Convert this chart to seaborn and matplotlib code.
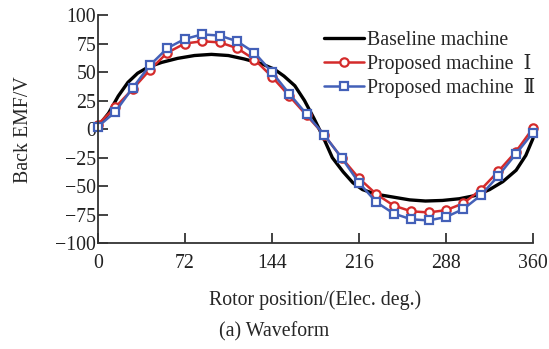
import numpy as np
import pandas as pd
import seaborn as sns
import matplotlib.pyplot as plt

# rotor position of the marker points (elec. deg)
pos_markers = [0, 14.4, 28.8, 43.2, 57.6, 72, 86.4, 100.8, 115.2, 129.6, 144,
               158.4, 172.8, 187.2, 201.6, 216, 230.4, 244.8, 259.2, 273.6, 288,
               302.4, 316.8, 331.2, 345.6, 360]
emf_prop1 = [4, 19, 35, 52, 67, 75, 77, 76, 71, 61, 46, 29, 12, -5, -25, -43,
             -57, -67, -72, -73, -71, -65, -53, -37, -20, 1]
emf_prop2 = [2, 15, 36, 56, 71, 79, 83, 82, 77, 67, 50, 31, 13, -5, -25, -47,
             -64, -74, -79, -80, -77, -70, -58, -41, -22, -3]

# baseline machine
pos_base = [0, 9, 17, 25, 33, 42, 53, 66, 80, 94, 108, 121, 135, 146, 154, 163,
            171, 179, 186, 194, 203, 211, 219, 230, 244, 258, 271, 285, 299,
            313, 324, 335, 346, 354, 360]
emf_base = [2, 14, 29, 41, 49, 54.5, 58.5, 62, 64.5, 65.5, 64.5, 61.5, 57.5,
            52.5, 46.5, 38, 25, 9, -6, -25, -37.5, -47, -53, -57, -59.5, -62,
            -63, -62.5, -61, -58, -53, -46, -36, -23, -8]

x_ticks = [0, 72, 144, 216, 288, 360]
y_ticks = [-100, -75, -50, -25, 0, 25, 50, 75, 100]

sns.set_style('ticks')
plt.rcParams['font.family'] = ['Liberation Serif', 'DejaVu Serif', 'Noto Sans CJK SC']
plt.rcParams['font.size'] = 14.3

fig = plt.figure(figsize=(5.49, 3.49), dpi=100)
ax = fig.add_axes([0.178, 0.303, 0.793, 0.654])

base_df = pd.DataFrame({'pos': pos_base, 'emf': emf_base})
mark_df = pd.DataFrame({'pos': pos_markers, 'p1': emf_prop1, 'p2': emf_prop2})

sns.lineplot(data=base_df, x='pos', y='emf', color='black', linewidth=2.4,
             label='Baseline machine', ax=ax)
sns.lineplot(data=mark_df, x='pos', y='p1', color='#d42b2b', linewidth=1.8,
             marker='o', markersize=6, markerfacecolor='white',
             markeredgecolor='#d42b2b', markeredgewidth=1.6,
             label='Proposed machine  Ⅰ', ax=ax)
sns.lineplot(data=mark_df, x='pos', y='p2', color='#4360b8', linewidth=1.8,
             marker='s', markersize=6, markerfacecolor='white',
             markeredgecolor='#4360b8', markeredgewidth=1.6,
             label='Proposed machine  Ⅱ', ax=ax)
for ln in ax.lines:
    ln.set_clip_on(False)

ax.set_xlim(0, 360)
ax.set_ylim(-100, 100)
ax.set_xticks(x_ticks)
ax.set_yticks(y_ticks)
ax.tick_params(direction='in', length=7, width=1.2, colors='#222222', pad=1)
ax.tick_params(axis='x', pad=8)
sns.despine(ax=ax)
for s in ['left', 'bottom']:
    ax.spines[s].set_linewidth(1.3)
    ax.spines[s].set_color('#333333')

ax.set_xlabel('Rotor position/(Elec. deg.)', labelpad=12)
ax.set_ylabel('Back EMF/V', labelpad=16)

ax.legend(loc='upper right', bbox_to_anchor=(1.037, 0.99), frameon=False,
          handlelength=2.0, handletextpad=0.15, labelspacing=0.2,
          borderaxespad=0.3)

fig.text(0.5, 0.05, '(a) Waveform', ha='center', va='center', fontsize=14.3)

fig.savefig('out.png', dpi=100)
